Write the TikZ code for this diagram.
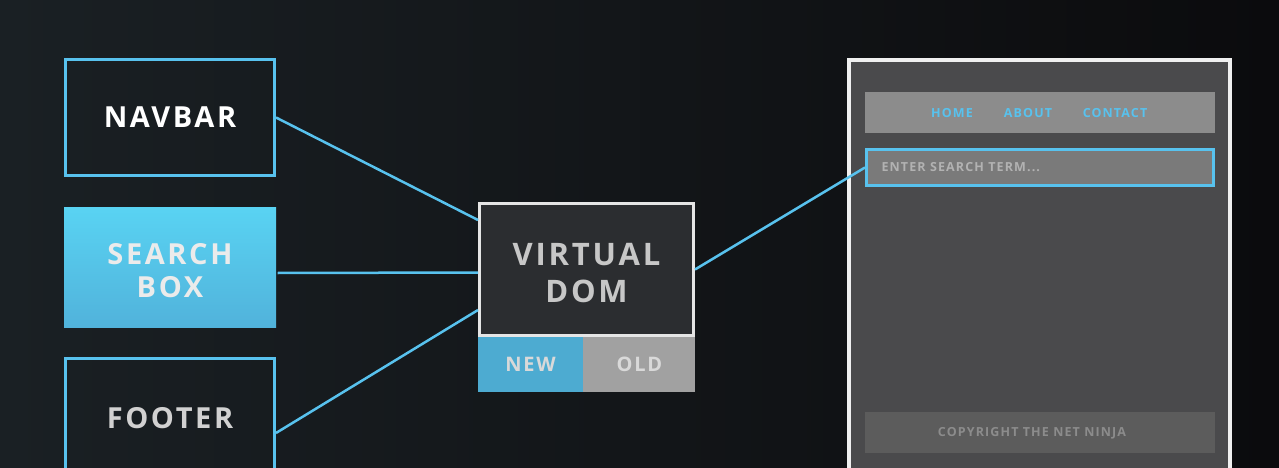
\documentclass[tikz,border=0pt]{standalone}
\usepackage{fontspec}
\setmainfont{Open Sans}
\newfontfamily\uifont[LetterSpace=9]{Open Sans}
\usetikzlibrary{positioning}
\definecolor{bgleft}{HTML}{1A2024}
\definecolor{bgright}{HTML}{0B0B0D}
\definecolor{ninjablue}{HTML}{58C2EE}
\definecolor{vdomfill}{HTML}{2B2D30}
\definecolor{pagefill}{HTML}{4A4A4C}
\tikzset{
  part/.style={draw=ninjablue, line width=3pt, minimum width=209pt, minimum height=116pt,
    text=white, align=center, font=\uifont\bfseries\fontsize{29}{33}\selectfont},
  caption/.style={align=center, font=\uifont\bfseries\fontsize{29}{33}\selectfont},
  bar/.style={minimum width=350pt, minimum height=41pt, inner sep=0pt},
  link/.style={ninjablue, line width=2.5pt},
  menu/.style={text=ninjablue, font=\uifont\bfseries\fontsize{12.5}{15}\selectfont},
  small/.style={font=\uifont\bfseries\fontsize{12.5}{14}\selectfont},
}
\begin{document}
\begin{tikzpicture}[x=1pt, y=-1pt]
  \shade[left color=bgleft, right color=bgright] (0,0) rectangle (1279,468);
  \useasboundingbox (0,0) rectangle (1279,468);

  \node[part] (navbar) at (170,117.5) {NAVBAR};
  \node[part, draw=none, minimum width=212pt, minimum height=120pt,
    top color=ninjablue!80!cyan!90!white, bottom color=ninjablue!92!black] (search) at (170,267) {};
  \node[caption, text=white!92!black] (searchtext) at ([yshift=-4pt]search.center) {SEARCH\\BOX};
  \node[part, minimum height=120pt, text=white!82!black] (footer) at (170,418) {FOOTER};

  \node[draw=white!90!black, fill=vdomfill, line width=3pt, minimum width=214pt, minimum height=132pt]
    (vdom) at (586.5,269.5) {};
  \node[caption, text=white!78!black, font=\uifont\bfseries\fontsize{31}{37}\selectfont]
    (vdomtext) at ([yshift=-4pt]vdom.center) {VIRTUAL\\DOM};
  \node[fill=ninjablue!88!black, minimum width=105pt, minimum height=55pt, inner sep=0pt,
    text=white!85!black, font=\uifont\bfseries\fontsize{20}{24}\selectfont] (new) at (530.5,364.5) {NEW};
  \node[fill=black!37, minimum width=112pt, minimum height=55pt, inner sep=0pt, right=0pt of new,
    text=white!85!black, font=\uifont\bfseries\fontsize{20}{24}\selectfont] (old) {OLD};

  \node[draw=white!94!black, fill=pagefill, line width=4pt, minimum width=381pt, minimum height=440pt]
    (page) at (1039.5,280) {};
  \node[bar, fill=black!45] (menubar) at (1040,112.5) {};
  \node[menu] (home) at (952,113) {HOME};
  \node[menu] (about) at (1028,113) {ABOUT};
  \node[menu] (contact) at (1115,113) {CONTACT};
  \node[bar, fill=black!52, draw=ninjablue, line width=3pt, minimum width=347pt, minimum height=36pt]
    (searchbar) at (1040,167.5) {};
  \node[small, anchor=west, text=black!30] (term) at (878,167) {ENTER SEARCH TERM...};
  \node[bar, fill=black!64] (footbar) at (1040,432.5) {};
  \node[small, text=black!45] (copy) at (1032,433) {COPYRIGHT THE NET NINJA};

  \draw[link] (navbar.east) -- ([yshift=49.5pt]vdom.west);
  \draw[link] ([yshift=-6pt]search.east) -- ([yshift=-3pt]vdom.west);
  \draw[link] ([yshift=-15pt]footer.east) -- ([yshift=-40.5pt]vdom.west);
  \draw[link] (vdom.east) -- (searchbar.west);
\end{tikzpicture}
\end{document}
